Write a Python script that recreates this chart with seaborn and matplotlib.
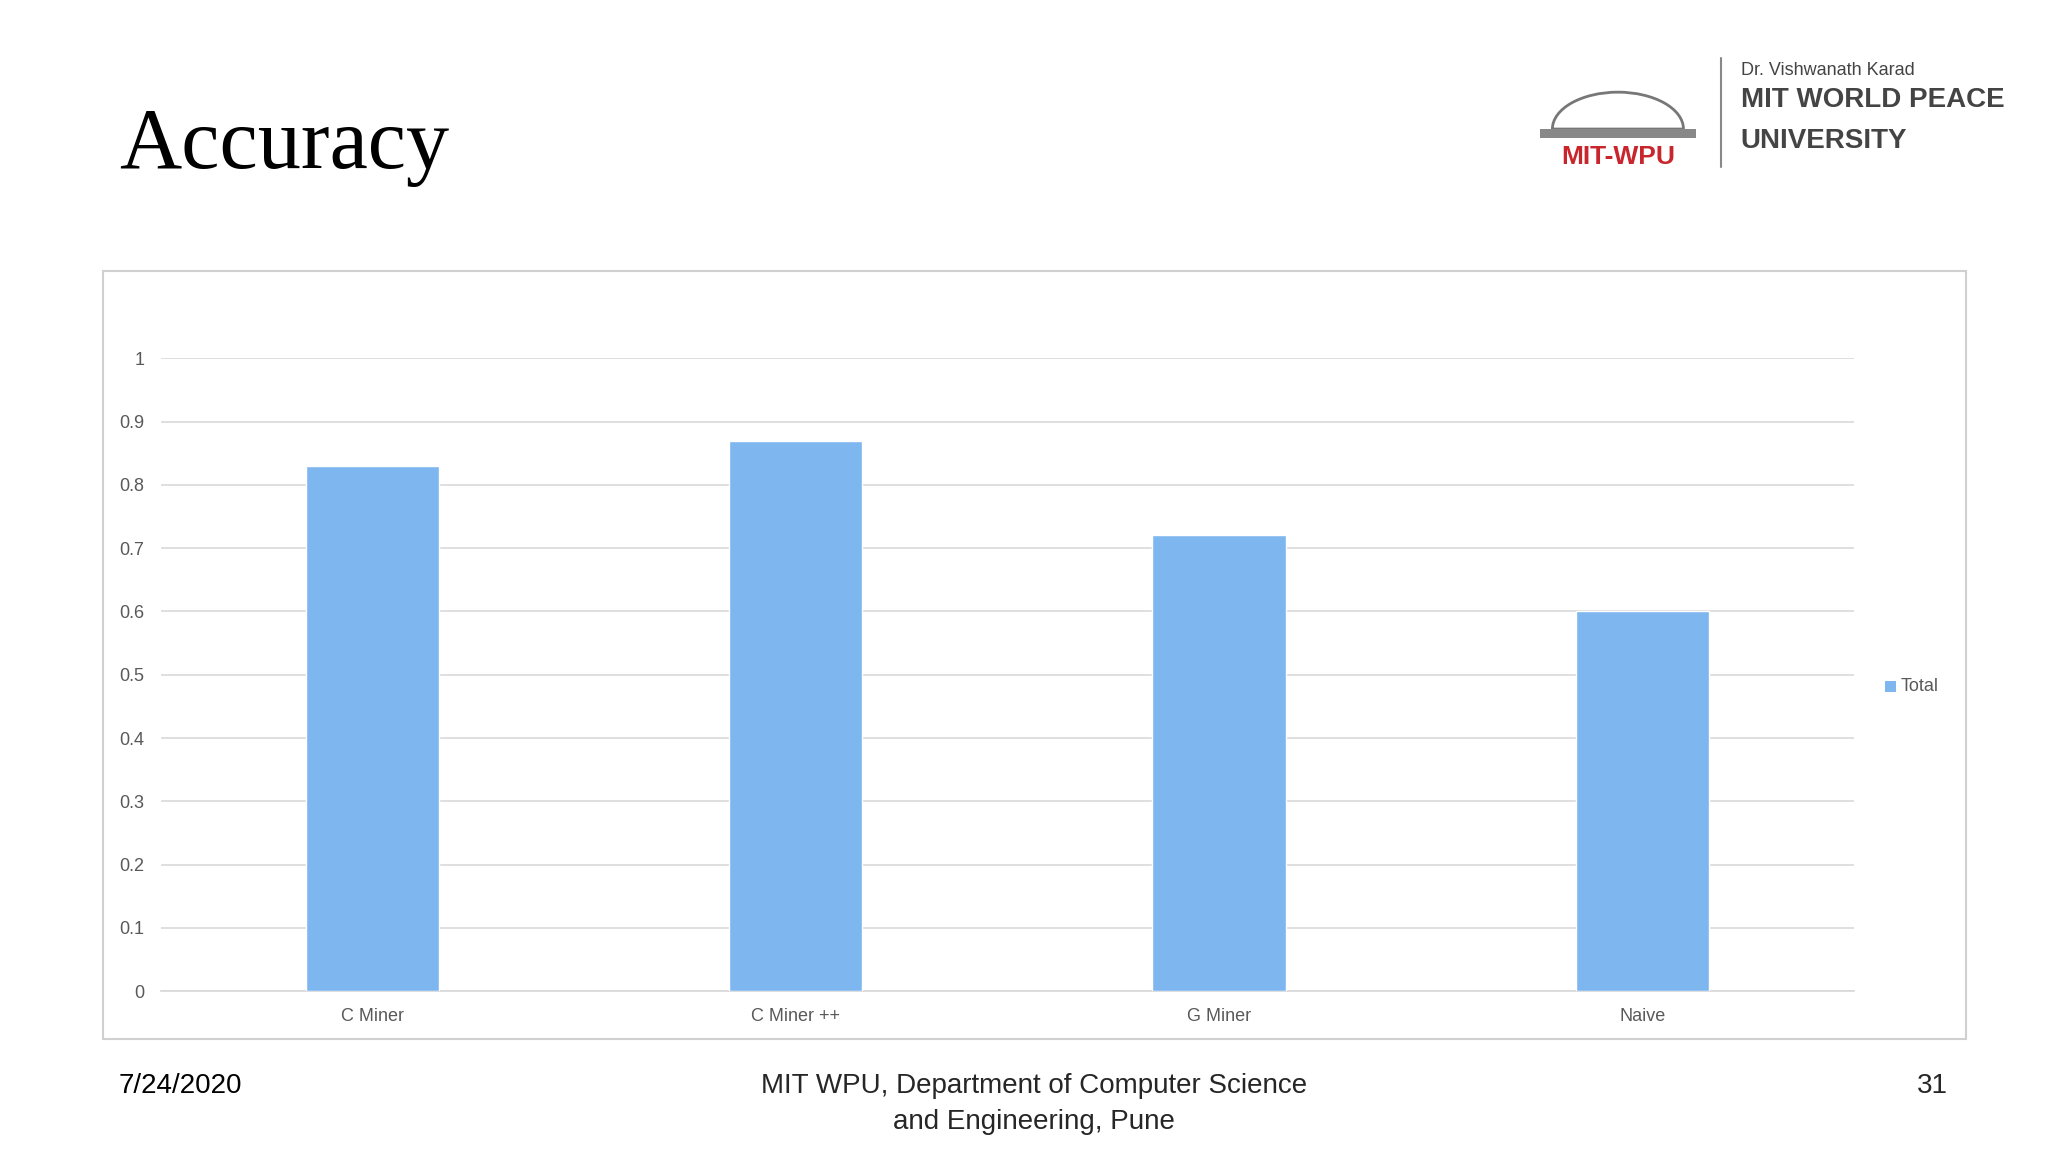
import matplotlib
matplotlib.use("Agg")
import matplotlib.pyplot as plt
import seaborn as sns
import pandas as pd
from matplotlib.patches import Rectangle, Wedge

categories = ["C Miner", "C Miner ++", "G Miner", "Naive"]
values = [0.83, 0.87, 0.72, 0.60]
yticks = [0, 0.1, 0.2, 0.3, 0.4, 0.5, 0.6, 0.7, 0.8, 0.9, 1]
ytick_labels = ["0", "0.1", "0.2", "0.3", "0.4", "0.5", "0.6", "0.7", "0.8", "0.9", "1"]

sns.set_theme(style="white")
plt.rcParams['font.family'] = ['Liberation Sans', 'DejaVu Sans']

fig = plt.figure(figsize=(20.48, 11.52), dpi=100)
fig.patch.set_facecolor("white")

fig.patches.append(Rectangle((0.0503, 0.0984), 0.9097, 0.6666, transform=fig.transFigure,
                             fill=False, edgecolor="#d0d0d0", linewidth=1.5))

ax = fig.add_axes([0.0786, 0.1396, 0.8266, 0.5494])
df = pd.DataFrame({"cat": categories, "val": values})
sns.barplot(data=df, x="cat", y="val", color="#7EB6EF", saturation=1, width=0.315, ax=ax, zorder=3)
ax.set_ylim(0, 1)
ax.set_yticks(yticks)
ax.set_yticklabels(ytick_labels)
ax.yaxis.grid(True, color="#d9d9d9", linewidth=1.2, zorder=0)
ax.set_axisbelow(True)
for s in ["top", "right", "left"]:
    ax.spines[s].set_visible(False)
ax.spines["bottom"].set_color("#d9d9d9")
ax.tick_params(axis="both", length=0, labelsize=13, colors="#595959", pad=12)
ax.set_xlabel("")
ax.set_ylabel("")

fig.patches.append(Rectangle((0.9205, 0.3995), 0.0055, 0.0095, transform=fig.transFigure,
                             facecolor="#7EB6EF", edgecolor="none"))
fig.text(0.928, 0.404, "Total", fontsize=13, color="#595959", va="center")

fig.text(0.058, 0.872, "Accuracy", fontsize=62, family="Liberation Serif", va="center", color="black")

# logo
fig.patches.append(Wedge((0.79, 0.888), 0.032, 0, 180, transform=fig.transFigure,
                         fill=False, edgecolor="#777777", linewidth=2))
fig.patches.append(Rectangle((0.752, 0.880), 0.076, 0.008, transform=fig.transFigure,
                             facecolor="#888888", edgecolor="none"))
fig.text(0.79, 0.864, "MIT-WPU", fontsize=19, color="#c8252c", weight="bold", ha="center", va="center")
fig.text(0.850, 0.939, "Dr. Vishwanath Karad", fontsize=13, color="#444444", va="center")
fig.text(0.850, 0.913, "MIT WORLD PEACE", fontsize=20, color="#444444", weight="bold", va="center")
fig.text(0.850, 0.878, "UNIVERSITY", fontsize=20, color="#444444", weight="bold", va="center")
fig.lines.append(plt.Line2D([0.8405, 0.8405], [0.855, 0.95], transform=fig.transFigure, color="#888888", lw=1.5))

fig.text(0.058, 0.057, "7/24/2020", fontsize=20, color="black", va="center")
fig.text(0.505, 0.057, "MIT WPU, Department of Computer Science", fontsize=20, ha="center", va="center")
fig.text(0.505, 0.026, "and Engineering, Pune", fontsize=20, ha="center", va="center")
fig.text(0.951, 0.057, "31", fontsize=20, ha="right", va="center")

fig.savefig("out.png", dpi=100, facecolor="white")
